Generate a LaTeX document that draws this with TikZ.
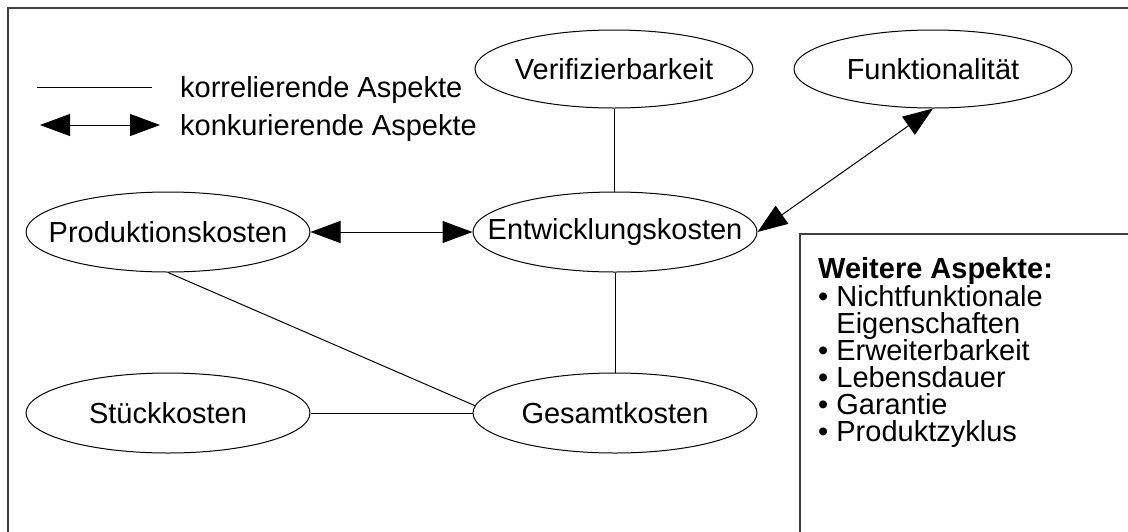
\documentclass[tikz,border=0pt]{standalone}
\usepackage{fontspec}
\setmainfont{Liberation Sans}
\usetikzlibrary{shapes.geometric,arrows.meta}
\begin{document}
\begin{tikzpicture}[x=1pt,y=-1pt,
  every node/.style={font=\fontsize{29}{34}\selectfont},
  aspect/.style={draw, ellipse, line width=1pt, minimum width=284pt, minimum height=80pt, inner sep=0pt},
  smallaspect/.style={aspect, minimum width=278pt, minimum height=78pt},
  rel/.style={line width=1pt},
  conc/.style={line width=1pt, {Triangle[length=30pt,width=22pt]}-{Triangle[length=30pt,width=22pt]}},
  txt/.style={anchor=base west, inner sep=0pt},
  frame/.style={line width=1.6pt, draw=black!75}]
\useasboundingbox (0,0) rectangle (1128,531);
\clip (0,0) rectangle (1128,531);
\draw[frame] (8,8) rectangle (1140,545);

% legend
\coordinate (l1a) at (37,87);
\coordinate (l1b) at (152,87);
\coordinate (l2a) at (40,125);
\coordinate (l2b) at (160,125);
\draw[rel] (l1a) -- (l1b);
\draw[conc] (l2a) -- (l2b);
\node[txt] (legcorr) at (180,97) {korrelierende Aspekte};
\node[txt] (legconc) at (180,135) {konkurierende Aspekte};

% aspects
\node[smallaspect, label=center:Verifizierbarkeit] (verif) at (614,69) {};
\node[smallaspect, label=center:Funktionalität] (funk) at (933,69) {};
\node[aspect, label=center:Produktionskosten] (prod) at (168,232) {};
\node[aspect, label=center:Entwicklungskosten] (entw) at (615,232) {};
\node[aspect, label=center:Stückkosten] (stueck) at (168,413) {};
\node[aspect, label=center:Gesamtkosten] (gesamt) at (615,413) {};

% connectors
\draw[rel] (verif.south) -- (verif.south |- entw.north);
\draw[rel] (entw.south) -- (gesamt.north);
\draw[rel] (prod.south) -- (gesamt.177);
\draw[rel] (stueck.east) -- (gesamt.west);
\draw[conc] (prod.east) -- (entw.west);
\draw[conc] (entw.east) -- (funk.south);

% further aspects box
\draw[frame] (800,234) rectangle (1140,545);
\node[txt] (wa) at (818,278) {\textbf{Weitere Aspekte:}};
\node[txt] (w1) at (818,306) {• Nichtfunktionale};
\node[txt] (w1b) at (818,333) {\phantom{• }Eigenschaften};
\node[txt] (w2) at (818,360) {• Erweiterbarkeit};
\node[txt] (w3) at (818,387) {• Lebensdauer};
\node[txt] (w4) at (818,414) {• Garantie};
\node[txt] (w5) at (818,441) {• Produktzyklus};
\end{tikzpicture}
\end{document}
